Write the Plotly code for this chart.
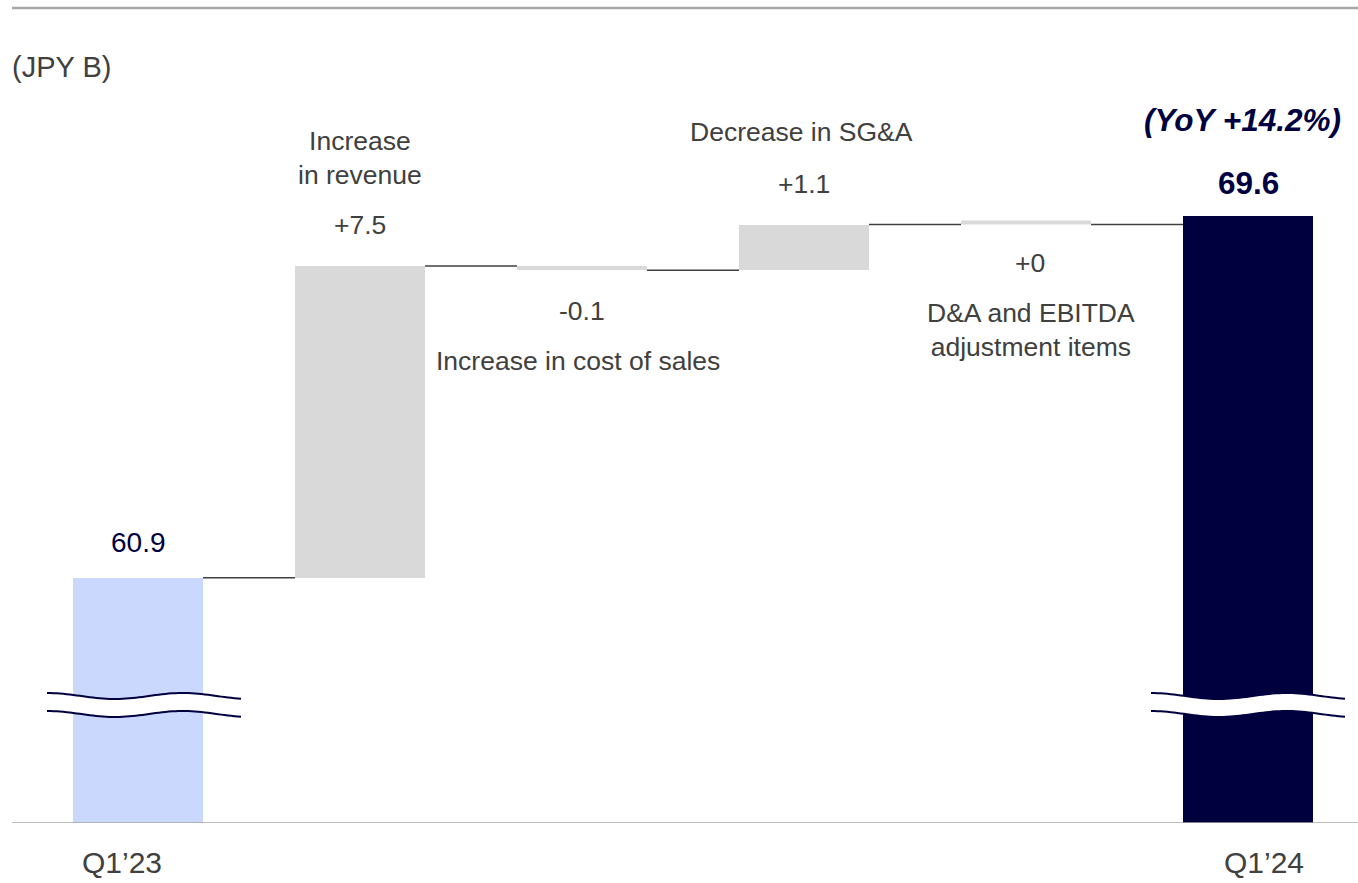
import numpy as np
import plotly.graph_objects as go

# ---- data (JPY B) ----
categories = ["Q1\u201923", "Increase in revenue", "Increase in cost of sales",
              "Decrease in SG&A", "D&A and EBITDA adjustment items", "Q1\u201924"]
start_value = 60.9
deltas = [7.5, -0.1, 1.1, 0.0]
end_value = 69.6
yoy_label = "(YoY +14.2%)"
unit_label = "(JPY B)"

# ---- styling ----
FONT = "Liberation Sans, Arial, sans-serif"
GRAY_TXT = "#404040"
NAVY = "#000040"
C_START = "#c9d8fc"
C_STEP = "#d9d9d9"
C_END = "#00003f"
W, H = 1358, 883
B_MARGIN = 60
Y_MIN = 55.0
PX_PER_UNIT = 41.56
X_STEP = 222.0
X0_PX = 138.0
BAR_W = 130.0 / X_STEP
TXT = 26.5

plot_h = H - B_MARGIN
y_max = Y_MIN + plot_h / PX_PER_UNIT
x_lo = -X0_PX / X_STEP
x_hi = (W - X0_PX) / X_STEP

# running totals for the floating bars
n = len(categories)
xs = list(range(n))
bases, heights, ends = [0.0], [start_value], [start_value]
level = start_value
for d in deltas:
    bases.append(level)
    heights.append(d)
    level = level + d
    ends.append(level)
bases.append(0.0)
heights.append(end_value)
ends.append(end_value)
colors = [C_START] + [C_STEP] * len(deltas) + [C_END]

fig = go.Figure()
fig.add_trace(go.Bar(
    x=xs, y=heights, base=bases, width=BAR_W,
    marker=dict(color=colors, line=dict(width=0)),
    hoverinfo="skip", showlegend=False,
))

shapes = []
# zero-size steps drawn as a thin strip
for i, d in enumerate(deltas, start=1):
    if d == 0:
        shapes.append(dict(type="line", xref="x", yref="y",
                           x0=i - BAR_W / 2, x1=i + BAR_W / 2,
                           y0=ends[i] + 0.05, y1=ends[i] + 0.05,
                           line=dict(color=C_STEP, width=4)))
# connectors between bars
for i in range(n - 1):
    shapes.append(dict(type="line", xref="x", yref="y",
                       x0=i + BAR_W / 2, x1=i + 1 - BAR_W / 2,
                       y0=ends[i], y1=ends[i],
                       line=dict(color=GRAY_TXT, width=1.5)))
# baseline and top rule
shapes.append(dict(type="line", xref="paper", yref="y",
                   x0=12 / W, x1=1, y0=Y_MIN, y1=Y_MIN,
                   line=dict(color="#a6a6a6", width=1.5)))
shapes.append(dict(type="line", xref="paper", yref="paper",
                   x0=12 / W, x1=1, y0=1 - 8 / plot_h, y1=1 - 8 / plot_h,
                   line=dict(color="#a6a6a6", width=2.5)))


# axis-break marks on the two total bars
def wave(xc, y_mid, half_w=0.437, amp_px=3.0, npts=60):
    t = np.linspace(0, 1, npts)
    xx = xc - half_w + 2 * half_w * t
    yy = y_mid + (amp_px / PX_PER_UNIT) * np.cos(2 * np.pi * t / 0.7)
    return xx, yy


upper_mid = Y_MIN + (plot_h - 696) / PX_PER_UNIT
lower_mid = Y_MIN + (plot_h - 714) / PX_PER_UNIT
for xc in (0 + 6 / X_STEP, n - 1):
    ux, uy = wave(xc, upper_mid)
    lx, ly = wave(xc, lower_mid)
    pts = list(zip(ux, uy)) + list(zip(lx[::-1], ly[::-1]))
    band = "M " + " L ".join(f"{a:.4f},{b:.4f}" for a, b in pts) + " Z"
    shapes.append(dict(type="path", xref="x", yref="y", path=band,
                       fillcolor="white", line=dict(width=0)))
    for wx, wy in ((ux, uy), (lx, ly)):
        p = "M " + " L ".join(f"{a:.4f},{b:.4f}" for a, b in zip(wx, wy))
        shapes.append(dict(type="path", xref="x", yref="y", path=p,
                           line=dict(color=NAVY, width=2)))

annotations = []


def label(x, y, text, yshift, xshift=0, size=TXT, color=GRAY_TXT, bold=False, italic=False):
    if bold:
        text = f"<b>{text}</b>"
    if italic:
        text = f"<i>{text}</i>"
    annotations.append(dict(x=x, y=y, xref="x", yref="y", text=text,
                            showarrow=False, xanchor="center", yanchor="middle",
                            yshift=yshift, xshift=xshift,
                            font=dict(family=FONT, size=size, color=color)))


top = [max(b, b + h) for b, h in zip(bases, heights)]
bottom = [min(b, b + h) for b, h in zip(bases, heights)]


def fmt_delta(d):
    return f"{d:+.1f}" if d != 0 else "+0"


label(0, top[0], f"{start_value:.1f}", 35, size=28, color=NAVY)
label(1, top[1], fmt_delta(deltas[0]), 41)
label(1, top[1], "Increase<br>in revenue", 108)
label(2, bottom[2], fmt_delta(deltas[1]), -41)
label(2, bottom[2], "Increase in cost of sales", -91, xshift=-4)
label(3, top[3], fmt_delta(deltas[2]), 41)
label(3, top[3], "Decrease in SG&A", 93, xshift=-3)
label(4, top[4], fmt_delta(deltas[3]), -38, xshift=4)
label(4, top[4], "D&A and EBITDA<br>adjustment items", -105, xshift=5)
label(5, top[5], f"{end_value:.1f}", 33, size=31.5, color=NAVY, bold=True)
label(5, top[5], yoy_label, 96, xshift=-6, size=31.5, color=NAVY, bold=True, italic=True)

annotations.append(dict(x=12 / W, y=1 - 67 / plot_h, xref="paper", yref="paper",
                        text=unit_label, showarrow=False, xanchor="left", yanchor="middle",
                        xshift=-2,
                        font=dict(family=FONT, size=29, color=GRAY_TXT)))
for xi, xsh in ((0, -16), (n - 1, 16)):
    annotations.append(dict(x=xi, y=-39 / plot_h, xref="x", yref="paper",
                            text=categories[xi], showarrow=False, xanchor="center",
                            yanchor="middle", xshift=xsh,
                            font=dict(family=FONT, size=30, color=GRAY_TXT)))

fig.update_layout(
    width=W, height=H,
    margin=dict(l=0, r=0, t=0, b=B_MARGIN, pad=0),
    paper_bgcolor="white", plot_bgcolor="white",
    xaxis=dict(range=[x_lo, x_hi], visible=False, fixedrange=True),
    yaxis=dict(range=[Y_MIN, y_max], visible=False, fixedrange=True),
    shapes=shapes, annotations=annotations,
    bargap=0, showlegend=False,
)

fig.write_html("out.html")
